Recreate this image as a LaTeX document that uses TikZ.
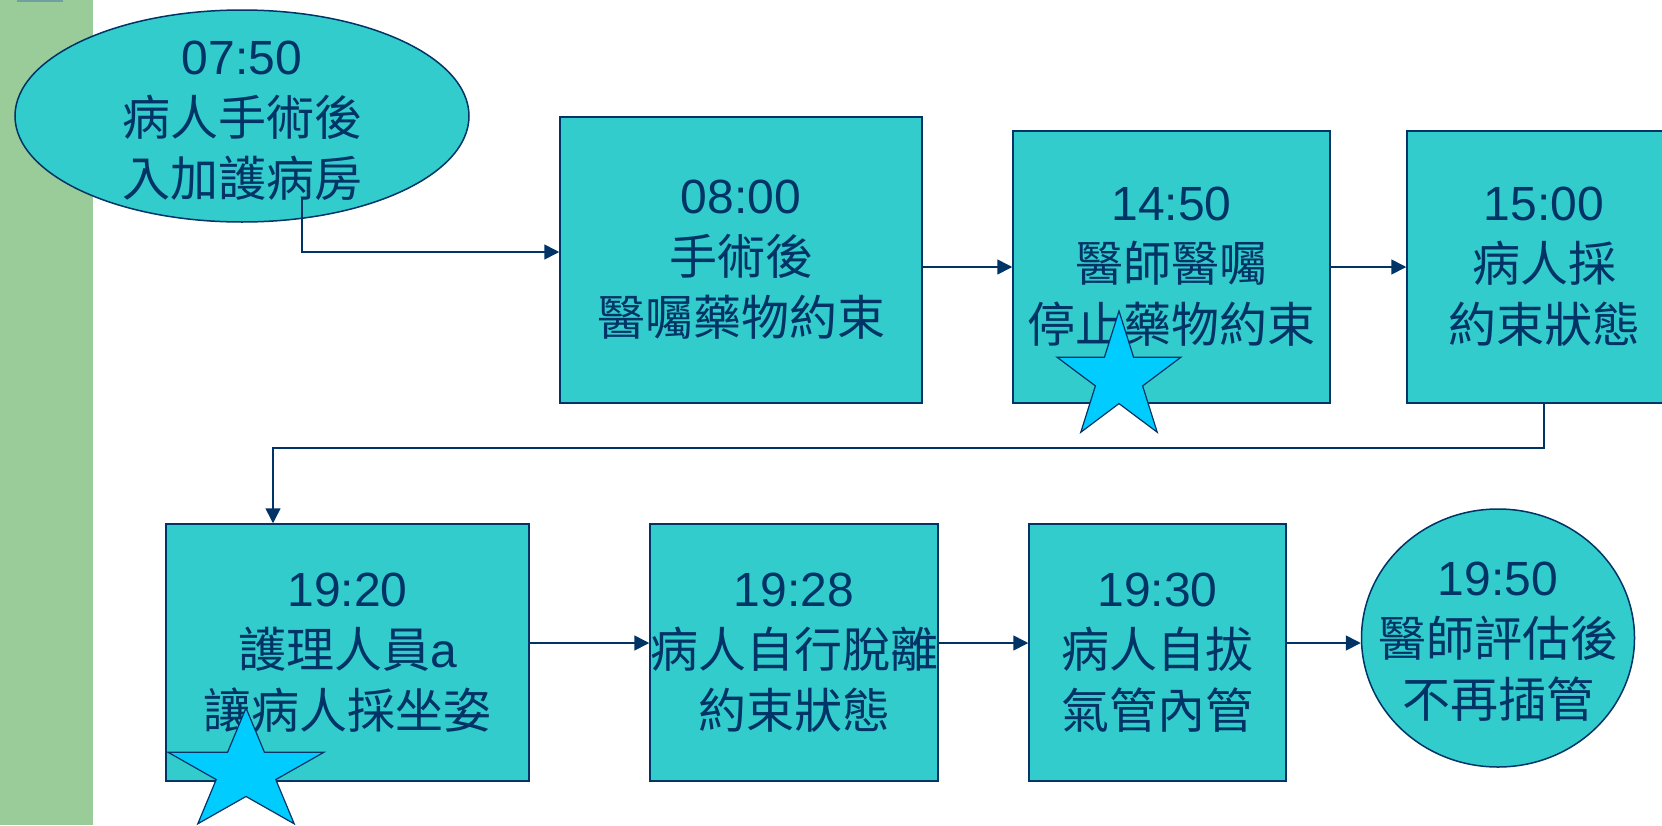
\documentclass[tikz,border=0pt]{standalone}
\usepackage{fontspec}
\setmainfont{Liberation Sans}
\newfontfamily\cjk{Noto Sans CJK TC}
\usetikzlibrary{shapes.geometric,arrows.meta}
\definecolor{navy}{HTML}{003366}
\definecolor{boxfill}{HTML}{33CCCC}
\definecolor{barfill}{HTML}{99CC99}
\definecolor{starfill}{HTML}{00CCFF}
\definecolor{tabfill}{HTML}{6F9F9F}
\tikzset{
  evtext/.style={text=navy, align=center, inner sep=0pt, font=\fontsize{48}{61}\selectfont},
  evt/.style={draw=navy, line width=1.5pt, fill=boxfill, evtext},
  evbox/.style={evt, rectangle},
  evell/.style={evt, ellipse},
  arr/.style={draw=navy, line width=1.6pt, -{Triangle[length=15pt,width=15pt]}},
  starstyle/.style={draw=navy, line width=1.2pt, fill=starfill, line join=miter},
}
\newcommand\mystar[4]{%
  \begin{scope}[shift={(#1,#2)}, xscale=#3, yscale=#4]
    \path[starstyle] (-90:1) -- (-126:0.382) -- (-162:1) -- (-198:0.382) -- (-234:1)
      -- (-270:0.382) -- (-306:1) -- (-342:0.382) -- (-18:1) -- (-54:0.382) -- cycle;
  \end{scope}}
\begin{document}
\begin{tikzpicture}[x=1pt, y=-1pt]
\useasboundingbox (0,0) rectangle (1662,825);
\clip (0,0) rectangle (1662,825);
\fill[barfill] (0,0) rectangle (93,825);
\fill[tabfill] (17,0) rectangle (63,1.5);

\node[evell, minimum width=454pt, minimum height=212pt,
  label={[evtext, yshift=-5pt]center:{07:50\\{\cjk 病人手術後}\\{\cjk 入加護病房}}}] (e0) at (242,116) {};
\node[evbox, minimum width=362pt, minimum height=286pt] (b1) at (741,260)
  {08:00\\{\cjk 手術後}\\{\cjk 醫囑藥物約束}};
\node[evbox, minimum width=317pt, minimum height=272pt] (b2) at (1171.5,267)
  {14:50\\{\cjk 醫師醫囑}\\{\cjk 停止藥物約束}};
\node[evbox, minimum width=274pt, minimum height=272pt] (b3) at (1544,267)
  {15:00\\{\cjk 病人採}\\{\cjk 約束狀態}};
\node[evbox, minimum width=363pt, minimum height=257pt] (b4) at (347.5,652.5)
  {19:20\\{\cjk 護理人員}a\\{\cjk 讓病人採坐姿}};
\node[evbox, minimum width=288pt, minimum height=257pt] (b5) at (794,652.5)
  {19:28\\{\cjk 病人自行脫離}\\{\cjk 約束狀態}};
\node[evbox, minimum width=257pt, minimum height=257pt] (b6) at (1157.5,652.5)
  {19:30\\{\cjk 病人自拔}\\{\cjk 氣管內管}};
\node[evell, minimum width=273pt, minimum height=258pt,
  label={[evtext, yshift=-4pt]center:{19:50\\{\cjk 醫師評估後}\\{\cjk 不再插管}}}] (c7) at (1498,638) {};

\coordinate (s0) at (302,197);
\coordinate (k) at (273,448);
\draw[arr] (s0) |- ([yshift=8pt]b1.west);
\draw[arr] (b1.east |- b2.west) -- (b2.west);
\draw[arr] (b2.east) -- (b3.west);
\draw[arr] (b3.south) |- (k) -- (k |- b4.north);
\draw[arr] ([yshift=9.5pt]b4.east) -- ([yshift=9.5pt]b5.west);
\draw[arr] ([yshift=9.5pt]b5.east) -- ([yshift=9.5pt]b6.west);
\draw[arr] ([yshift=9.5pt]b6.east) -- (c7.west |- 0,643);

\mystar{1119}{378}{65}{67}
\mystar{246}{772}{82}{64}
\end{tikzpicture}
\end{document}
